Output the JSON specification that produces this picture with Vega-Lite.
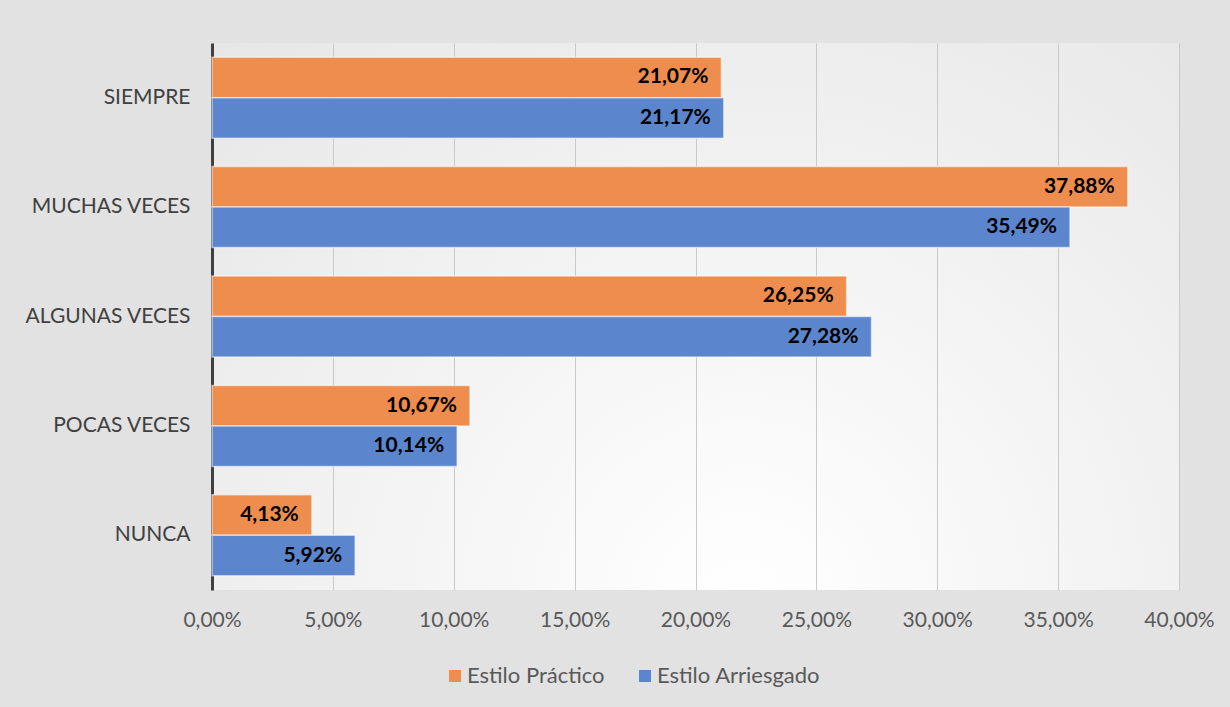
{
  "$schema": "https://vega.github.io/schema/vega-lite/v6.json",
  "width": 967,
  "height": 547,
  "autosize": {"type": "none"},
  "padding": {"left": 212, "top": 43, "right": 51, "bottom": 117},
  "background": "#e2e2e2",
  "config": {
    "locale": {"number": {"decimal": ",", "thousands": ".", "grouping": [3], "currency": ["", " €"]}},
    "font": "Lato",
    "view": {
      "stroke": null,
      "fill": {
        "gradient": "radial",
        "x1": 0.55, "y1": 0.8, "r1": 0,
        "x2": 0.55, "y2": 0.8, "r2": 0.95,
        "stops": [
          {"offset": 0, "color": "#ffffff"},
          {"offset": 1, "color": "#e2e2e2"}
        ]
      }
    }
  },
  "data": {
    "values": [
      {"cat": "SIEMPRE", "serie": "Estilo Práctico", "v": 0.2107},
      {"cat": "SIEMPRE", "serie": "Estilo Arriesgado", "v": 0.2117},
      {"cat": "MUCHAS VECES", "serie": "Estilo Práctico", "v": 0.3788},
      {"cat": "MUCHAS VECES", "serie": "Estilo Arriesgado", "v": 0.3549},
      {"cat": "ALGUNAS VECES", "serie": "Estilo Práctico", "v": 0.2625},
      {"cat": "ALGUNAS VECES", "serie": "Estilo Arriesgado", "v": 0.2728},
      {"cat": "POCAS VECES", "serie": "Estilo Práctico", "v": 0.1067},
      {"cat": "POCAS VECES", "serie": "Estilo Arriesgado", "v": 0.1014},
      {"cat": "NUNCA", "serie": "Estilo Práctico", "v": 0.0413},
      {"cat": "NUNCA", "serie": "Estilo Arriesgado", "v": 0.0592}
    ]
  },
  "encoding": {
    "y": {
      "field": "cat",
      "type": "nominal",
      "sort": ["SIEMPRE", "MUCHAS VECES", "ALGUNAS VECES", "POCAS VECES", "NUNCA"],
      "scale": {"paddingInner": 0.26, "paddingOuter": 0.13},
      "axis": {
        "title": null,
        "ticks": false,
        "domain": true,
        "domainColor": "#404040",
        "domainWidth": 3,
        "grid": false,
        "labelFontSize": 21,
        "labelColor": "#404040",
        "labelPadding": 22
      }
    },
    "yOffset": {
      "field": "serie",
      "type": "nominal",
      "sort": ["Estilo Práctico", "Estilo Arriesgado"]
    },
    "x": {
      "field": "v",
      "type": "quantitative",
      "scale": {"domain": [0, 0.4], "nice": false},
      "axis": {
        "title": null,
        "format": ".2%",
        "values": [0, 0.05, 0.1, 0.15, 0.2, 0.25, 0.3, 0.35, 0.4],
        "ticks": false,
        "domain": false,
        "grid": true,
        "gridColor": "#c9c9c9",
        "gridWidth": 1,
        "labelFlush": false,
        "labelFontSize": 21,
        "labelColor": "#595959",
        "labelPadding": 19
      }
    }
  },
  "layer": [
    {
      "mark": {"type": "bar", "stroke": "#ffffff", "strokeOpacity": 0.55, "strokeWidth": 1.5},
      "encoding": {
        "color": {
          "field": "serie",
          "type": "nominal",
          "scale": {"domain": ["Estilo Práctico", "Estilo Arriesgado"], "range": ["#ee8d4d", "#5b86cd"]},
          "legend": {
            "title": null,
            "orient": "none",
            "direction": "horizontal",
            "legendX": 232,
            "legendY": 622,
            "symbolType": "square",
            "symbolSize": 144,
            "symbolStrokeWidth": 0,
            "symbolOpacity": 1,
            "labelFontSize": 22,
            "labelLimit": 400,
            "labelColor": "#595959",
            "labelOffset": 1,
            "columnPadding": 29
          }
        }
      }
    },
    {
      "mark": {"type": "text", "align": "right", "baseline": "middle", "dx": -13, "fontWeight": "bold", "fontSize": 21, "color": "#000000"},
      "encoding": {
        "text": {"field": "v", "type": "quantitative", "format": ".2%"}
      }
    }
  ]
}
